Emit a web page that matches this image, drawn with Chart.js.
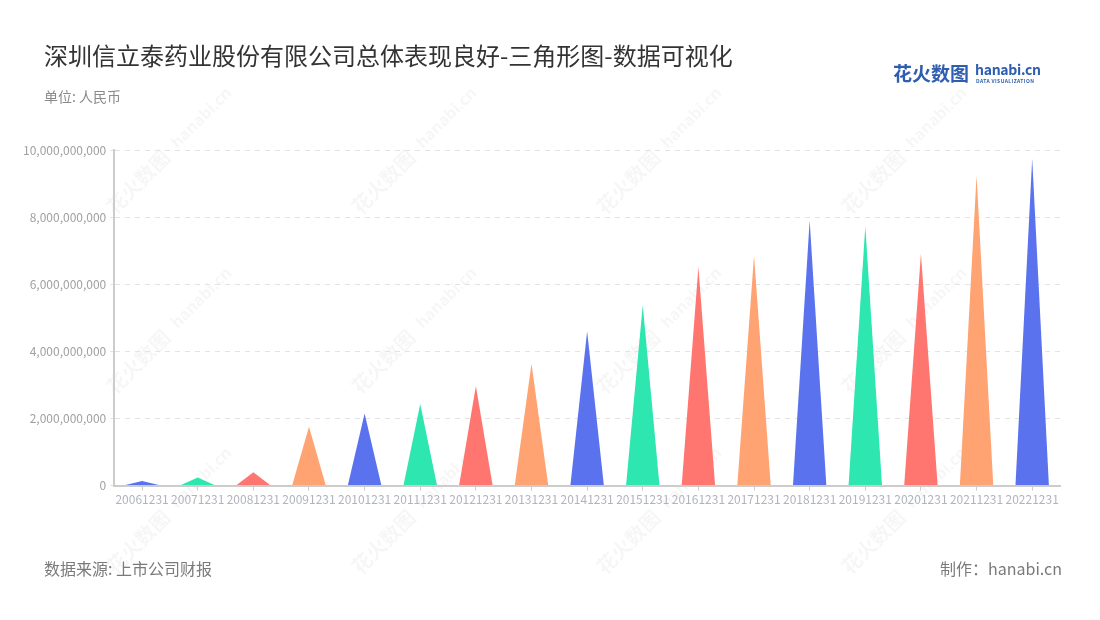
<!DOCTYPE html>
<html><head><meta charset="utf-8">
<script src="https://cdn.jsdelivr.net/npm/chart.js@4"></script>
<style>
html,body{margin:0;padding:0;background:#fff;}
#wrap{position:relative;width:1100px;height:620px;font-family:"Noto Sans CJK SC","Noto Sans",sans-serif;}
#c{position:absolute;left:0;top:0;}
.t{position:absolute;white-space:nowrap;}
</style></head>
<body><div id="wrap">
<canvas id="c" width="1100" height="620"></canvas>
<div class="t" style="left:44px;top:37px;font-size:24px;color:#333;">深圳信立泰药业股份有限公司总体表现良好-三角形图-数据可视化</div>
<div class="t" style="left:44px;top:86px;font-size:14px;color:#8a8a8a;">单位: 人民币</div>
<div class="t" style="left:893px;top:59px;font-size:19px;font-weight:bold;color:#2f5db0;letter-spacing:0px;">花火数图</div>
<div class="t" style="left:975px;top:59px;font-size:14px;font-weight:bold;color:#2f5db0;letter-spacing:-0.3px;">hanabi.cn</div>
<div class="t" style="left:976px;top:77px;font-size:5px;font-weight:bold;color:#2f5db0;letter-spacing:0.4px;">DATA VISUALIZATION</div>
<div class="t" style="left:44px;top:556px;font-size:16px;color:#7a7a7a;">数据来源: 上市公司财报</div>
<div class="t" style="right:38px;top:556px;font-size:16px;color:#7a7a7a;">制作：hanabi.cn</div>
</div>
<script>
const categories = ["20061231","20071231","20081231","20091231","20101231","20111231","20121231","20131231","20141231","20151231","20161231","20171231","20181231","20191231","20201231","20211231","20221231"];
const values = [0.14e9,0.24e9,0.40e9,1.75e9,2.15e9,2.43e9,2.97e9,3.63e9,4.60e9,5.38e9,6.51e9,6.85e9,7.89e9,7.73e9,6.91e9,9.24e9,9.74e9];
const palette = ["#5a72ee","#2ee6b0","#ff7670","#ffa372"];
const yTicks = [0,2e9,4e9,6e9,8e9,10e9];

const colors = categories.map((_, i) => palette[i % palette.length]);

const watermark = {
  id: 'watermark',
  beforeDraw(chart) {
    const ctx = chart.ctx;
    ctx.save();
    const xs = [170, 415, 660, 905];
    const ys = [150, 330, 510];
    ctx.fillStyle = 'rgba(0,0,0,0.035)';
    ctx.textBaseline = 'middle';
    ctx.textAlign = 'center';
    for (const x of xs) for (const y of ys) {
      ctx.save();
      ctx.translate(x, y);
      ctx.rotate(-Math.PI / 4);
      ctx.font = 'bold 20px "Noto Sans CJK SC"';
      ctx.fillText('花火数图', -45, 0);
      ctx.font = 'bold 16px "Noto Sans"';
      ctx.fillText('hanabi.cn', 45, 0);
      ctx.restore();
    }
    ctx.restore();
  }
};

const triangles = {
  id: 'triangles',
  beforeDatasetDraw(chart, args) {
    const meta = args.meta;
    const ctx = chart.ctx;
    ctx.save();
    meta.data.forEach((el, i) => {
      const p = el.getProps(['x','y','base','width'], true);
      ctx.beginPath();
      ctx.moveTo(p.x - p.width/2, p.base);
      ctx.lineTo(p.x, p.y);
      ctx.lineTo(p.x + p.width/2, p.base);
      ctx.closePath();
      ctx.fillStyle = colors[i];
      ctx.fill();
    });
    ctx.restore();
    return false;
  }
};

new Chart(document.getElementById('c'), {
  type: 'bar',
  data: { labels: categories, datasets: [{ data: values, backgroundColor: colors, categoryPercentage: 1, barPercentage: 0.6 }] },
  options: {
    responsive: false,
    animation: false,
    layout: { padding: { top: 150, left: 19, right: 40, bottom: 111 } },
    plugins: { legend: { display: false }, tooltip: { enabled: false } },
    scales: {
      x: {
        grid: { display: true, drawOnChartArea: false, drawTicks: true, tickLength: 5, offset: false, color: '#cccccc' },
        border: { display: true, color: '#cccccc', width: 2 },
        ticks: { color: '#b0b4bc', font: { size: 12, family: '"Noto Sans CJK SC"' }, padding: 2, maxRotation: 0, autoSkip: false }
      },
      y: {
        min: 0, max: 10e9,
        afterBuildTicks(axis) { axis.ticks = yTicks.map(v => ({ value: v })); },
        grid: { color: '#e3e3e3', lineWidth: 1, tickLength: 4, drawTicks: true },
        border: { display: true, color: '#cccccc', width: 2, dash: [5, 5] },
        ticks: { color: '#a0a0a0', font: { size: 12, family: '"Noto Sans CJK SC"' }, padding: 4,
          callback: v => Number(v).toLocaleString('en-US') }
      }
    }
  },
  plugins: [watermark, triangles]
});
</script>
</body></html>
